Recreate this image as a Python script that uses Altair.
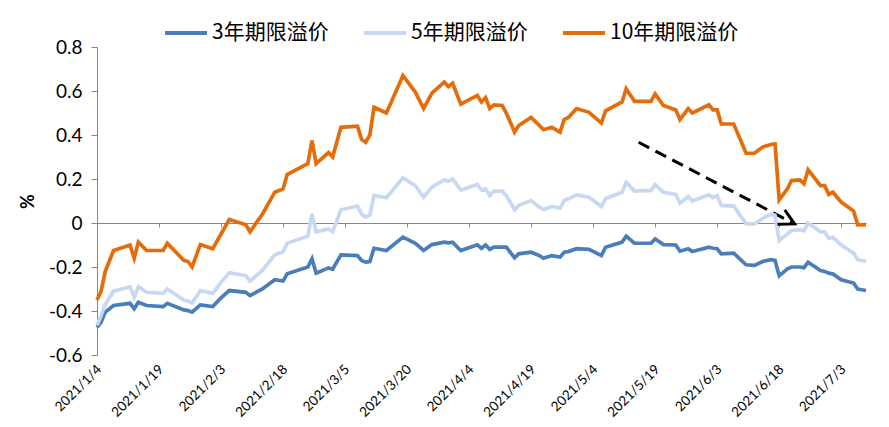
import altair as alt
import pandas as pd

# ---------------- data ----------------
SERIES = ["3年期限溢价", "5年期限溢价", "10年期限溢价"]
COLORS = ["#4A7EBB", "#C6D9F1", "#E46C0A"]

START = "2021-01-04"
END = "2021-07-09"
# day offsets from 2021-01-04
DAYS = [0, 1, 2, 4, 8, 9, 10, 12, 16, 17,
        21, 22, 23, 25, 28, 30, 32, 36, 37, 40,
        43, 45, 46, 51, 52, 53, 56, 57, 59, 63,
        64, 65, 66, 67, 70, 74, 77, 79, 81, 84,
        85, 86, 88, 92, 93, 94, 95, 96, 98, 99,
        101, 102, 105, 107, 108, 110, 112, 113, 114, 116,
        119, 122, 123, 127, 128, 130, 134, 135, 137, 140,
        141, 143, 144, 148, 149, 150, 151, 154, 157, 159,
        161, 163, 164, 165, 167, 168, 170, 171, 172, 175,
        176, 177, 178, 180, 183, 184, 186]

Y10 = [-0.35, -0.31, -0.22, -0.125, -0.10, -0.16, -0.087, -0.125, -0.125, -0.092,
       -0.17, -0.175, -0.20, -0.098, -0.117, -0.05, 0.016, -0.008, -0.04, 0.04,
       0.14, 0.155, 0.22, 0.27, 0.375, 0.27, 0.32, 0.30, 0.435, 0.44,
       0.38, 0.367, 0.40, 0.526, 0.50, 0.67, 0.595, 0.52, 0.59, 0.64,
       0.62, 0.635, 0.54, 0.58, 0.55, 0.57, 0.52, 0.537, 0.534, 0.50,
       0.413, 0.443, 0.48, 0.443, 0.424, 0.435, 0.413, 0.47, 0.48, 0.52,
       0.503, 0.454, 0.51, 0.55, 0.61, 0.553, 0.553, 0.587, 0.534, 0.514,
       0.47, 0.52, 0.50, 0.537, 0.514, 0.514, 0.45, 0.45, 0.317, 0.317,
       0.345, 0.357, 0.36, 0.105, 0.155, 0.193, 0.196, 0.178, 0.242, 0.17,
       0.17, 0.13, 0.14, 0.095, 0.054, -0.008, -0.007]

Y5 = [-0.465, -0.42, -0.37, -0.31, -0.29, -0.337, -0.29, -0.315, -0.32, -0.30,
      -0.35, -0.355, -0.364, -0.307, -0.32, -0.27, -0.226, -0.239, -0.264, -0.216,
      -0.145, -0.13, -0.092, -0.06, 0.04, -0.04, -0.027, -0.04, 0.06, 0.077,
      0.04, 0.027, 0.035, 0.125, 0.115, 0.205, 0.17, 0.117, 0.163, 0.196,
      0.19, 0.20, 0.15, 0.175, 0.15, 0.155, 0.125, 0.145, 0.145, 0.125,
      0.06, 0.08, 0.102, 0.072, 0.061, 0.075, 0.067, 0.102, 0.11, 0.128,
      0.117, 0.075, 0.11, 0.14, 0.185, 0.145, 0.148, 0.175, 0.14, 0.13,
      0.09, 0.12, 0.10, 0.128, 0.115, 0.125, 0.08, 0.077, -0.004, -0.004,
      0.02, 0.04, 0.035, -0.08, -0.05, -0.034, -0.03, -0.035, 0.0, -0.04,
      -0.04, -0.07, -0.065, -0.10, -0.137, -0.167, -0.174]

Y3 = [-0.475, -0.45, -0.405, -0.375, -0.365, -0.39, -0.36, -0.375, -0.38, -0.365,
      -0.395, -0.398, -0.405, -0.372, -0.38, -0.34, -0.307, -0.315, -0.33, -0.30,
      -0.258, -0.264, -0.231, -0.20, -0.163, -0.228, -0.204, -0.21, -0.145, -0.148,
      -0.17, -0.178, -0.175, -0.115, -0.125, -0.064, -0.092, -0.125, -0.098, -0.087,
      -0.09, -0.087, -0.125, -0.099, -0.115, -0.10, -0.12, -0.11, -0.11, -0.11,
      -0.158, -0.14, -0.133, -0.148, -0.16, -0.148, -0.155, -0.133, -0.13, -0.117,
      -0.12, -0.148, -0.11, -0.087, -0.06, -0.092, -0.092, -0.072, -0.098, -0.10,
      -0.128, -0.117, -0.13, -0.11, -0.115, -0.117, -0.14, -0.137, -0.19, -0.193,
      -0.175, -0.167, -0.17, -0.24, -0.208, -0.20, -0.20, -0.203, -0.178, -0.216,
      -0.22, -0.228, -0.232, -0.258, -0.273, -0.30, -0.307]

TICK_DATES = [(1, 4), (1, 19), (2, 3), (2, 18), (3, 5), (3, 20), (4, 4),
              (4, 19), (5, 4), (5, 19), (6, 3), (6, 18), (7, 3)]
Y_TICKS = [-0.6, -0.4, -0.2, 0, 0.2, 0.4, 0.6, 0.8]

# annotation arrow (start, tip)
ARROW_T = ["2021-05-15 00:00", "2021-06-21 17:00"]
ARROW_V = [0.367, -0.004]

# ---------------- build ----------------
start = pd.Timestamp(START)
dates = [start + pd.Timedelta(days=d) for d in DAYS]
rows = []
for name, vals in zip(SERIES, [Y3, Y5, Y10]):
    for d, v in zip(dates, vals):
        rows.append({"date": d, "value": v, "series": name})
df = pd.DataFrame(rows)

arrow_df = pd.DataFrame({"date": pd.to_datetime(ARROW_T), "value": ARROW_V})
tip_df = arrow_df.iloc[[1]]

tick_vals = [alt.DateTime(year=2021, month=m, date=d) for m, d in TICK_DATES]
xscale = alt.Scale(domain=[alt.DateTime(year=2021, month=1, date=4),
                           alt.DateTime(year=2021, month=7, date=9)], nice=False)
yscale = alt.Scale(domain=[-0.6, 0.8], nice=False, zero=False)

yaxis = alt.Axis(values=Y_TICKS,
                 labelExpr="datum.value == 0 ? '0' : (datum.value < 0 ? '-' : '') + format(abs(datum.value), '.1f')",
                 grid=False, domainColor="#868686", tickColor="#868686",
                 tickSize=6, labelPadding=9, labelFont="Lato", labelFontSize=19,
                 labelColor="black", title="%", titleFont="Lato",
                 titleFontSize=18, titleFontWeight="bold", titleColor="black",
                 titleAngle=270, titleX=-69, titleY=154,
                 titleAlign="center", titleBaseline="middle")

lines = alt.Chart(df).mark_line(strokeWidth=3.7).encode(
    x=alt.X("date:T", scale=xscale,
            axis=alt.Axis(orient="bottom", values=tick_vals, format="%Y/%-m/%-d",
                          labelAngle=-45, labelAlign="right", labelBaseline="middle",
                          labelPadding=12, labelOffset=2, domain=False, ticks=False,
                          tickSize=0, grid=False, title=None, labelFont="Lato",
                          labelFontSize=13.5, labelColor="black", labelOverlap=False)),
    y=alt.Y("value:Q", scale=yscale, axis=yaxis),
    color=alt.Color("series:N", scale=alt.Scale(domain=SERIES, range=COLORS),
                    legend=alt.Legend(title=None, orient="none", legendX=66, legendY=-37,
                                      direction="horizontal", symbolType="stroke",
                                      symbolSize=1764, symbolStrokeWidth=4,
                                      labelFont="Noto Sans CJK SC", labelFontSize=21,
                                      labelColor="black", columnPadding=27,
                                      labelOffset=3, padding=0, labelLimit=300)),
)

arrow_line = alt.Chart(arrow_df).mark_line(strokeDash=[12, 7], strokeWidth=3,
                                           color="black").encode(
    x=alt.X("date:T", scale=xscale,
            axis=alt.Axis(orient="bottom", offset=-132, values=tick_vals, labels=False,
                          domain=True, domainColor="#868686", ticks=True, tickSize=4,
                          tickColor="#868686", grid=False, title=None)),
    y=alt.Y("value:Q", scale=yscale, axis=yaxis),
)

arrow_head = alt.Chart(tip_df).mark_point(
    shape="M-1,-0.53L0,0L-1,0.53", size=900, angle=27, filled=False,
    stroke="black", strokeWidth=3, opacity=1, strokeJoin="miter"
).encode(
    x=alt.X("date:T", scale=xscale, axis=None),
    y=alt.Y("value:Q", scale=yscale, axis=yaxis),
)

chart = alt.layer(arrow_line, lines, arrow_head).resolve_axis(
    x="independent", y="shared"
).properties(
    width=769, height=308,
    autosize=alt.AutoSizeParams(type="none"),
    padding={"left": 89, "top": 39, "right": 15, "bottom": 64},
).configure_view(stroke=None)

chart.save("out.html", embed_options={"renderer": "svg", "actions": False})
